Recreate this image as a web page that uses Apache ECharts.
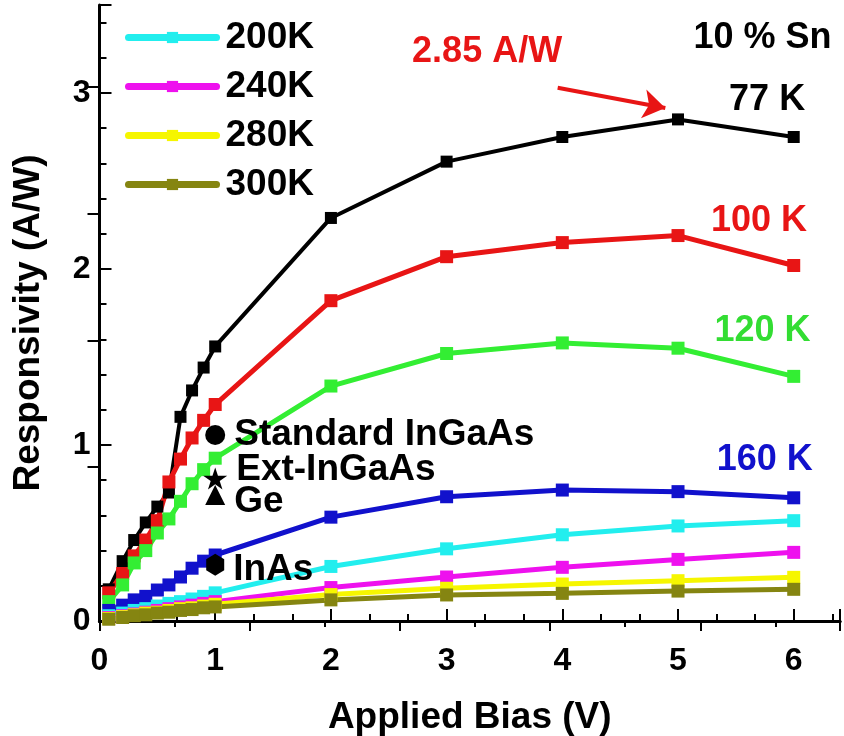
<!DOCTYPE html>
<html>
<head>
<meta charset="utf-8">
<script src="https://cdn.jsdelivr.net/npm/echarts@6/dist/echarts.min.js"></script>
<style>html,body{margin:0;padding:0;background:#fff}#c{width:844px;height:736px}</style>
</head>
<body>
<div id="c"></div>
<script>
// ---- data ----
var biasV = [0.08, 0.2, 0.3, 0.4, 0.5, 0.6, 0.7, 0.8, 0.9, 1, 2, 3, 4, 5, 6];
var r77K  = [0.18, 0.34, 0.46, 0.56, 0.65, 0.73, 1.16, 1.31, 1.44, 1.56, 2.29, 2.61, 2.75, 2.85, 2.75];
var r100K = [0.16, 0.27, 0.37, 0.46, 0.57, 0.79, 0.92, 1.04, 1.14, 1.23, 1.82, 2.07, 2.15, 2.19, 2.02];
var r120K = [0.11, 0.205, 0.33, 0.40, 0.50, 0.58, 0.68, 0.78, 0.86, 0.925, 1.335, 1.52, 1.58, 1.55, 1.39];
var r160K = [0.06, 0.09, 0.12, 0.14, 0.176, 0.205, 0.25, 0.30, 0.34, 0.375, 0.59, 0.706, 0.744, 0.735, 0.70];
var r200K = [0.03, 0.045, 0.06, 0.07, 0.085, 0.10, 0.11, 0.125, 0.14, 0.16, 0.31, 0.41, 0.49, 0.54, 0.57];
var r240K = [0.02, 0.03, 0.04, 0.05, 0.06, 0.07, 0.08, 0.09, 0.10, 0.11, 0.19, 0.25, 0.305, 0.35, 0.39];
var r280K = [0.015, 0.025, 0.035, 0.045, 0.05, 0.06, 0.07, 0.075, 0.085, 0.095, 0.15, 0.186, 0.21, 0.229, 0.248];
var r300K = [0.01, 0.02, 0.03, 0.035, 0.045, 0.05, 0.06, 0.065, 0.075, 0.08, 0.12, 0.148, 0.157, 0.17, 0.18];

var refNames = ['Standard InGaAs', 'Ext-InGaAs', 'Ge', 'InAs'];
var refX = [1, 1, 1, 1];
var refY = [1.057, 0.81, 0.716, 0.32];

var curveLabels = ['10 % Sn', '77 K', '100 K', '120 K', '160 K', '2.85 A/W'];
var curveLabelX = [5.73, 5.77, 5.70, 5.73, 5.75, 3.35];
var curveLabelY = [3.31, 2.96, 2.27, 1.65, 0.915, 3.23];
var curveLabelColor = ['#000000', '#000000', '#e81515', '#33dd33', '#1111cc', '#e81515'];

var arrowFrom = [3.96, 3.03];
var arrowTo = [4.89, 2.915];

var xTicks = [0, 1, 2, 3, 4, 5, 6];
var yTicks = [0, 1, 2, 3];
var rightTicks = [1.215, 2.215, 3.215, 4.215];

// ---- chart ----
var FONT = '"Liberation Sans", Arial, sans-serif';
function pairs(ys) { return biasV.map(function (x, i) { return [x, ys[i]]; }); }

var seriesDefs = [
  { name: '77K', data: r77K, color: '#000000', lw: 4, sz: 12 },
  { name: '100K', data: r100K, color: '#e81515', lw: 5, sz: 13 },
  { name: '120K', data: r120K, color: '#33ee33', lw: 5, sz: 13 },
  { name: '160K', data: r160K, color: '#1111cc', lw: 5, sz: 13 },
  { name: '200K', data: r200K, color: '#22eeee', lw: 5, sz: 13 },
  { name: '240K', data: r240K, color: '#ee11ee', lw: 5, sz: 13 },
  { name: '280K', data: r280K, color: '#f6f600', lw: 5, sz: 13 },
  { name: '300K', data: r300K, color: '#858511', lw: 5, sz: 13 }
];

var series = seriesDefs.map(function (d) {
  return {
    name: d.name, type: 'line', xAxisIndex: 0, yAxisIndex: 0,
    data: pairs(d.data), symbol: 'rect', symbolSize: d.sz,
    lineStyle: { color: d.color, width: d.lw },
    itemStyle: { color: d.color, opacity: 1 },
    z: 3
  };
});

series[0].markLine = {
  silent: true, symbol: ['none', 'arrow'], symbolSize: 22,
  lineStyle: { color: '#e81515', width: 4, type: 'solid', opacity: 1 },
  itemStyle: { color: '#e81515' },
  label: { show: false },
  data: [[{ coord: arrowFrom }, { coord: arrowTo }]]
};

var starPath = 'path://M50,0 L61,35 L98,35 L68,57 L79,92 L50,70 L21,92 L32,57 L2,35 L39,35 Z';
var hexPath = 'path://M50,0 L93,25 L93,75 L50,100 L7,75 L7,25 Z';
var refSymbols = ['circle', starPath, 'triangle', hexPath];
var refSizes = [[20, 20], [24, 22], [20, 20], [18, 22]];
var refOffsets = [[0, 0], [0, -9], [0, 7], [0, 5]];

series.push({
  name: 'refs', type: 'scatter', z: 5,
  data: refNames.map(function (n, i) {
    return {
      name: n, value: [refX[i], refY[i]], symbol: refSymbols[i], symbolSize: refSizes[i],
      label: { offset: refOffsets[i] }
    };
  }),
  itemStyle: { color: '#000', opacity: 1 },
  label: {
    show: true, position: 'right', distance: 9, formatter: '{b}',
    fontFamily: FONT, fontWeight: 'bold', fontSize: 37, color: '#000', opacity: 1
  }
});

series.push({
  name: 'labels', type: 'scatter', z: 6, symbolSize: 1,
  itemStyle: { color: 'transparent', opacity: 1 },
  data: curveLabels.map(function (n, i) {
    return { name: n, value: [curveLabelX[i], curveLabelY[i]],
      label: { color: curveLabelColor[i] } };
  }),
  label: {
    show: true, position: 'inside', formatter: '{b}', opacity: 1,
    fontFamily: FONT, fontWeight: 'bold', fontSize: 36
  }
});

var axisLabelStyle = { fontFamily: FONT, fontWeight: 'bold', fontSize: 32, color: '#000' };

var option = {
  animation: false,
  backgroundColor: '#fff',
  grid: { left: 99.5, right: 4, top: 5, bottom: 115, containLabel: false, outerBoundsMode: 'none' },
  legend: {
    data: ['200K', '240K', '280K', '300K'],
    orient: 'vertical', left: 120, top: 14,
    itemWidth: 88, itemHeight: 14, itemGap: 12,
    lineStyle: { width: 7, cap: 'round' },
    textStyle: { fontFamily: FONT, fontWeight: 'bold', fontSize: 37, color: '#000', padding: [0, 0, 0, 4] }
  },
  xAxis: [{
    type: 'value', position: 'bottom', min: 0, max: 6.4, interval: 1,
    axisLine: { lineStyle: { color: '#000', width: 3 } },
    axisTick: { inside: true, length: 12, lineStyle: { color: '#000', width: 2 } },
    minorTick: { show: true, splitNumber: 3, length: 7, lineStyle: { color: '#000', width: 2 } },
    splitLine: { show: false },
    axisLabel: Object.assign({ margin: 24, customValues: xTicks }, axisLabelStyle),
    name: 'Applied Bias (V)', nameLocation: 'middle', nameGap: 78,
    nameTextStyle: { fontFamily: FONT, fontWeight: 'bold', fontSize: 37, color: '#000' }
  }, {
    type: 'value', position: 'top', min: 0, max: 4.93, interval: 1,
    axisLine: { lineStyle: { color: '#000', width: 3 } },
    axisTick: { inside: true, length: 10, lineStyle: { color: '#000', width: 2 } },
    minorTick: { show: true, splitNumber: 2, length: 6, lineStyle: { color: '#000', width: 2 } },
    splitLine: { show: false }, axisLabel: { show: false }
  }],
  yAxis: [{
    type: 'value', position: 'left', min: 0, max: 3.5, interval: 1,
    axisLine: { lineStyle: { color: '#000', width: 3 } },
    axisTick: { inside: true, length: 12, lineStyle: { color: '#000', width: 2 } },
    minorTick: { show: true, splitNumber: 5, length: 7, lineStyle: { color: '#000', width: 2 } },
    splitLine: { show: false },
    axisLabel: Object.assign({ margin: 9, customValues: yTicks }, axisLabelStyle),
    name: 'Responsivity (A/W)', nameLocation: 'middle', nameGap: 52, nameRotate: 90,
    nameTextStyle: { fontFamily: FONT, fontWeight: 'bold', fontSize: 37, color: '#000', padding: [0, 20, 0, 0] }
  }, {
    type: 'value', position: 'right', min: 0, max: 4.862,
    axisLine: { show: false },
    axisTick: { show: true, inside: true, length: 12, customValues: rightTicks, lineStyle: { color: '#000', width: 2 } },
    splitLine: { show: false }, axisLabel: { show: false }
  }],
  series: series
};

var chart = echarts.init(document.getElementById('c'), null, { renderer: 'canvas' });
chart.setOption(option);
</script>
</body>
</html>
